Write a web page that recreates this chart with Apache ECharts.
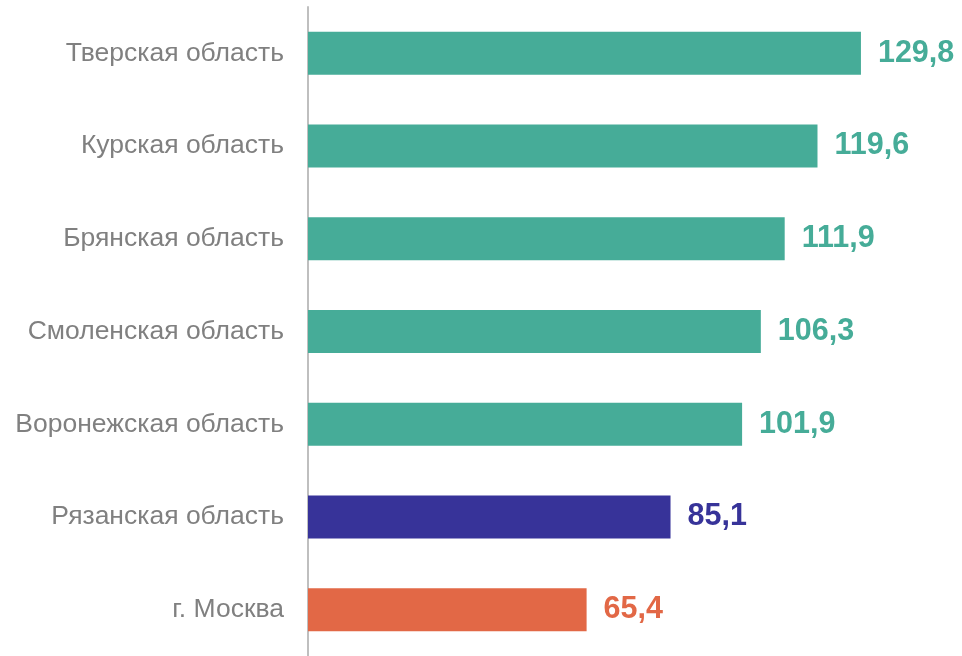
<!DOCTYPE html>
<html>
<head>
<meta charset="utf-8">
<script src="https://cdn.jsdelivr.net/npm/echarts@6/dist/echarts.min.js"></script>
<style>
  html, body { margin: 0; padding: 0; background: #fff; }
  #grafico { width: 962px; height: 656px; }
</style>
</head>
<body>
<div id="grafico"></div>
<script>
// данные снизу вверх (порядок категорий оси Y)
const regiones = ["г. Москва", "Рязанская область", "Воронежская область", "Смоленская область",
    "Брянская область", "Курская область", "Тверская область"];
const valores = [65.4, 85.1, 101.9, 106.3, 111.9, 119.6, 129.8];
const colores = ["#E26846", "#373399", "#46AC98", "#46AC98", "#46AC98", "#46AC98", "#46AC98"];

function dibujar() {
    let graf = echarts.init(document.getElementById('grafico'));

    let datosGraf = valores.map((v, i) => ({
        value: v,
        itemStyle: { color: colores[i] },
        label: { color: colores[i] }
    }));

    let option = {
        animation: false,
        grid: { left: 308, right: 15, top: 7, height: 654 },
        xAxis: {
            type: 'value',
            min: 0,
            max: 150,
            show: false
        },
        yAxis: {
            type: 'category',
            data: regiones,
            axisLine: { show: true, lineStyle: { color: '#BFBFBF', width: 2 } },
            axisTick: { show: false },
            axisLabel: {
                color: '#808080',
                fontSize: 26.5,
                fontFamily: 'Liberation Sans, Arial, sans-serif',
                margin: 24
            }
        },
        series: [
            {
                type: 'bar',
                data: datosGraf,
                barWidth: 43,
                label: {
                    show: true,
                    position: 'right',
                    distance: 17,
                    fontSize: 30.5,
                    fontWeight: 'bold',
                    fontFamily: 'Liberation Sans, Arial, sans-serif',
                    formatter: p => p.value.toFixed(1).replace('.', ',')
                }
            }
        ]
    };

    graf.setOption(option);
}

dibujar();
</script>
</body>
</html>
